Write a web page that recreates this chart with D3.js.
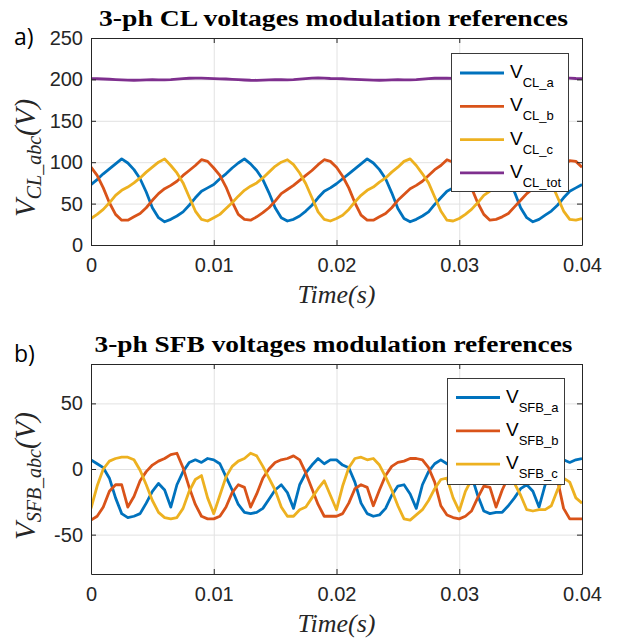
<!DOCTYPE html>
<html>
<head>
<meta charset="utf-8">
<script src="https://cdn.jsdelivr.net/npm/d3@7"></script>
<style>
  body { margin: 0; background: #fff; }
  svg { display: block; }
  .tick text { font-family: "Liberation Sans", Arial, sans-serif; font-size: 20px; fill: #262626; }
</style>
</head>
<body>
<script>
"use strict";

// sample instants in ms
const timeMs = [0, 0.5, 1, 1.5, 2, 2.5, 3, 3.5, 4, 4.5, 5, 5.5, 6, 6.5, 7, 7.5, 8, 8.5, 9, 9.5,
  10, 10.5, 11, 11.5, 12, 12.5, 13, 13.5, 14, 14.5, 15, 15.5, 16, 16.5, 17, 17.5, 18, 18.5, 19, 19.5,
  20, 20.5, 21, 21.5, 22, 22.5, 23, 23.5, 24, 24.5, 25, 25.5, 26, 26.5, 27, 27.5, 28, 28.5, 29, 29.5,
  30, 30.5, 31, 31.5, 32, 32.5, 33, 33.5, 34, 34.5, 35, 35.5, 36, 36.5, 37, 37.5, 38, 38.5, 39, 39.5, 40];

// a) CL voltage references (V)
const clA = [73, 79, 86, 92, 98, 104, 99, 91, 80, 64, 45, 33, 28, 31, 35, 40, 48, 57, 65, 69,
  73, 80, 86, 93, 99, 104, 98, 90, 79, 63, 45, 33, 29, 31, 35, 41, 48, 57, 65, 69,
  74, 80, 86, 92, 98, 104, 99, 91, 80, 63, 44, 32, 28, 31, 35, 40, 49, 57, 65, 69,
  73, 79, 86, 92, 99, 104, 99, 90, 79, 64, 45, 33, 28, 31, 36, 41, 48, 57, 65, 69, 73];
const clB = [94, 84, 69, 51, 37, 30, 30, 34, 38, 45, 54, 62, 68, 72, 77, 84, 90, 96, 103, 101,
  93, 84, 70, 52, 37, 31, 30, 34, 39, 45, 53, 62, 67, 72, 78, 84, 90, 97, 103, 101,
  94, 83, 69, 51, 36, 30, 30, 34, 38, 45, 54, 61, 68, 72, 77, 84, 91, 96, 103, 100,
  93, 84, 69, 51, 37, 30, 31, 34, 38, 46, 54, 62, 68, 72, 77, 84, 90, 96, 102, 101, 94];
const clC = [32, 37, 43, 51, 60, 66, 70, 75, 81, 88, 94, 100, 104, 96, 87, 75, 58, 41, 31, 29,
  33, 37, 44, 51, 59, 66, 71, 75, 81, 88, 95, 100, 103, 97, 87, 74, 57, 40, 31, 29,
  32, 36, 43, 52, 60, 66, 70, 76, 81, 88, 94, 101, 104, 96, 86, 75, 58, 41, 30, 29,
  32, 37, 43, 51, 60, 65, 70, 75, 82, 88, 94, 100, 104, 96, 87, 75, 58, 41, 31, 30, 32];
const clTot = [201, 200.8, 200.5, 200.2, 199.8, 199.4, 199.1, 199, 199.1, 199.4, 199.6, 199.5, 199.4, 199.7, 200.3, 200.9, 201.4, 201.6, 201.5, 201.2,
  200.9, 200.7, 200.5, 200.1, 199.7, 199.3, 199, 198.9, 199.1, 199.4, 199.7, 199.6, 199.4, 199.8, 200.4, 201, 201.5, 201.7, 201.5, 201.1,
  201, 200.8, 200.4, 200.1, 199.8, 199.4, 199.1, 199, 199.2, 199.5, 199.6, 199.5, 199.5, 199.8, 200.3, 200.9, 201.4, 201.6, 201.4, 201.2,
  201, 200.7, 200.5, 200.2, 199.8, 199.3, 199, 199, 199.1, 199.4, 199.6, 199.5, 199.4, 199.7, 200.3, 200.9, 201.5, 201.6, 201.5, 201.1, 200.9];

// b) SFB voltage references (V)
const sfbA = [7, 4, 1, -7, -22, -34, -37, -36, -34, -26, -17, -11, -16, -29, -12, -2, 5, 7, 5, 8,
  7, 4, -6, -16, -27, -33, -34, -33, -30, -23, -16, -12, -18, -30, -12, -3, 3, 8, 4, 7,
  7, 3, 1, -10, -26, -34, -36, -35, -30, -20, -13, -12, -19, -30, -12, -2, 4, 7, 4, 7,
  6, 2, -5, -20, -32, -34, -33, -33, -28, -22, -15, -12, -17, -29, -12, -3, 3, 7, 5, 7, 8];
const sfbB = [-39, -36, -29, -17, -12, -12, -29, -21, -9, -2, 3, 6, 8, 11, 12, 1, -14, -27, -36, -38,
  -38, -36, -29, -18, -12, -14, -29, -19, -7, 0, 5, 7, 8, 10, 7, -3, -15, -27, -36, -36,
  -36, -34, -26, -15, -12, -14, -28, -16, -5, 2, 5, 6, 8, 8, 7, 1, -10, -28, -35, -37,
  -38, -36, -32, -22, -13, -14, -29, -16, -6, 1, 5, 7, 8, 9, 8, 3, -8, -30, -38, -38, -38];
const sfbC = [-30, -13, 0, 6, 8, 9, 9, 7, -1, -12, -24, -33, -37, -38, -37, -30, -17, -8, -5, -22,
  -34, -20, -6, 2, 6, 8, 12, 10, 2, -7, -16, -29, -36, -36, -31, -29, -22, -15, -9, -20,
  -31, -13, 1, 8, 9, 7, 8, 3, -6, -16, -28, -38, -39, -35, -31, -24, -15, -8, -7, -22,
  -32, -17, -8, 2, 7, 9, 8, 4, -4, -11, -20, -31, -32, -31, -31, -28, -16, -7, -10, -22, -26];

// ticks
const xTicks = [0, 0.01, 0.02, 0.03, 0.04];
const clYTicks = [0, 50, 100, 150, 200, 250];
const sfbYTicks = [-50, 0, 50];

const clSubs = ["CL_a", "CL_b", "CL_c", "CL_tot"];
const sfbSubs = ["SFB_a", "SFB_b", "SFB_c"];

const colors = ["#0072BD", "#D95319", "#EDB120", "#7E2F8E"];

const w = 618;
const h = 639;
const left = 91;
const right = 582;

const svg = d3.select("body").append("svg").attr("width", w).attr("height", h);
svg.append("rect").attr("width", w).attr("height", h).attr("fill", "#fff");

const xScale = d3.scaleLinear().domain([0, 0.04]).range([left, right]);

const drawPanel = (p) => {
  const yScale = d3.scaleLinear().domain(p.yDomain).range([p.bottom, p.top]);
  const g = svg.append("g");

  //grid
  g.append("g")
    .attr("transform", `translate(0, ${p.bottom})`)
    .call(d3.axisBottom(xScale).tickValues(xTicks).tickSize(-(p.bottom - p.top)).tickFormat(""))
    .call((s) => s.select(".domain").remove())
    .call((s) => s.selectAll("line").attr("stroke", "#e2e2e2"));
  g.append("g")
    .attr("transform", `translate(${left}, 0)`)
    .call(d3.axisLeft(yScale).tickValues(p.yTicks).tickSize(-(right - left)).tickFormat(""))
    .call((s) => s.select(".domain").remove())
    .call((s) => s.selectAll("line").attr("stroke", "#e2e2e2"));

  //lines
  g.append("clipPath").attr("id", p.id + "-clip")
    .append("rect").attr("x", left).attr("y", p.top).attr("width", right - left).attr("height", p.bottom - p.top);

  const line = d3.line()
    .x((d, i) => xScale(timeMs[i] / 1000))
    .y((d) => yScale(d));

  g.append("g").attr("clip-path", `url(#${p.id}-clip)`)
    .selectAll("path")
    .data(p.series)
    .enter()
    .append("path")
    .attr("d", (d) => line(d))
    .attr("fill", "none")
    .attr("stroke", (d, i) => colors[i])
    .attr("stroke-width", 2.8)
    .attr("stroke-linejoin", "round");

  //axes box with inward ticks
  const axisStyle = (s) => {
    s.select(".domain").attr("stroke", "#262626");
    s.selectAll(".tick line").attr("stroke", "#262626");
  };
  g.append("g").attr("transform", `translate(0, ${p.bottom})`)
    .call(d3.axisBottom(xScale).tickValues(xTicks).tickSizeInner(-5).tickSizeOuter(0).tickPadding(13)
      .tickFormat((d) => (d === 0 ? "0" : d.toFixed(2))))
    .call(axisStyle);
  g.append("g").attr("transform", `translate(0, ${p.top})`)
    .call(d3.axisTop(xScale).tickValues(xTicks).tickSizeInner(-5).tickSizeOuter(0).tickFormat(""))
    .call(axisStyle);
  g.append("g").attr("transform", `translate(${left}, 0)`)
    .call(d3.axisLeft(yScale).tickValues(p.yTicks).tickSizeInner(-5).tickSizeOuter(0).tickPadding(8)
      .tickFormat((d) => String(d)))
    .call(axisStyle);
  g.append("g").attr("transform", `translate(${right}, 0)`)
    .call(d3.axisRight(yScale).tickValues(p.yTicks).tickSizeInner(-5).tickSizeOuter(0).tickFormat(""))
    .call(axisStyle);

  //title
  svg.append("text")
    .attr("x", (left + right) / 2 - 3)
    .attr("y", p.top - 12)
    .attr("text-anchor", "middle")
    .attr("textLength", p.titleWidth)
    .attr("lengthAdjust", "spacingAndGlyphs")
    .style("font-family", "'Liberation Serif', 'Times New Roman', serif")
    .style("font-weight", "bold")
    .style("font-size", "24px")
    .attr("fill", "#000")
    .text(p.title);

  //panel letter
  svg.append("text")
    .attr("x", 14)
    .attr("y", p.letterY)
    .style("font-family", "'Open Sans', 'Noto Sans', sans-serif")
    .style("font-size", "23px")
    .attr("fill", "#000")
    .text(p.letter);

  //x label
  svg.append("text")
    .attr("x", (left + right) / 2)
    .attr("y", p.bottom + 58)
    .attr("text-anchor", "middle")
    .style("font-family", "'Liberation Serif', 'Times New Roman', serif")
    .style("font-style", "italic")
    .style("font-size", "26px")
    .attr("fill", "#262626")
    .text("Time(s)");

  //y label
  const ylab = svg.append("text")
    .attr("transform", `translate(35, ${p.ylabelY}) rotate(-90)`)
    .attr("text-anchor", "middle")
    .style("font-family", "'Liberation Serif', 'Times New Roman', serif")
    .style("font-style", "italic")
    .style("font-size", "29px")
    .attr("fill", "#262626");
  ylab.append("tspan").text("V");
  ylab.append("tspan").attr("dy", 6).style("font-size", "20px").text(p.ylabelSub);
  ylab.append("tspan").attr("dy", -6).text("(V)");

  //legend
  const lg = svg.append("g");
  lg.append("rect")
    .attr("x", p.legend.x + 0.5)
    .attr("y", p.legend.y + 0.5)
    .attr("width", p.legend.w)
    .attr("height", p.legend.h)
    .attr("fill", "#fff")
    .attr("stroke", "#3a3a3a")
    .attr("stroke-width", 1);
  const items = lg.selectAll("g.item")
    .data(p.subs)
    .enter()
    .append("g")
    .attr("class", "item")
    .attr("transform", (d, i) => `translate(${p.legend.x}, ${p.legend.y + p.legend.first + i * p.legend.step})`);
  items.append("line")
    .attr("x1", 9).attr("x2", 53)
    .attr("stroke", (d, i) => colors[i])
    .attr("stroke-width", 2.8);
  const lt = items.append("text")
    .attr("x", 59)
    .attr("y", 5)
    .style("font-family", "'Liberation Sans', Arial, sans-serif")
    .style("font-size", "19px")
    .attr("fill", "#000");
  lt.append("tspan").text("V");
  lt.append("tspan").attr("dy", 9).style("font-size", "13px").text((d) => d);
};

drawPanel({
  id: "cl",
  top: 38,
  bottom: 245,
  yDomain: [0, 250],
  yTicks: clYTicks,
  series: [clA, clB, clC, clTot],
  subs: clSubs,
  title: "3-ph CL voltages modulation references",
  titleWidth: 469,
  letter: "a)",
  letterY: 45,
  ylabelY: 158,
  ylabelSub: "CL_abc",
  legend: { x: 451, y: 53, w: 117, h: 138, first: 20, step: 33.3 }
});

drawPanel({
  id: "sfb",
  top: 364,
  bottom: 574,
  yDomain: [-80, 80],
  yTicks: sfbYTicks,
  series: [sfbA, sfbB, sfbC],
  subs: sfbSubs,
  title: "3-ph SFB voltages modulation references",
  titleWidth: 478,
  letter: "b)",
  letterY: 362,
  ylabelY: 476,
  ylabelSub: "SFB_abc",
  legend: { x: 447, y: 378, w: 117, h: 106, first: 19.5, step: 33.3 }
});
</script>
</body>
</html>
